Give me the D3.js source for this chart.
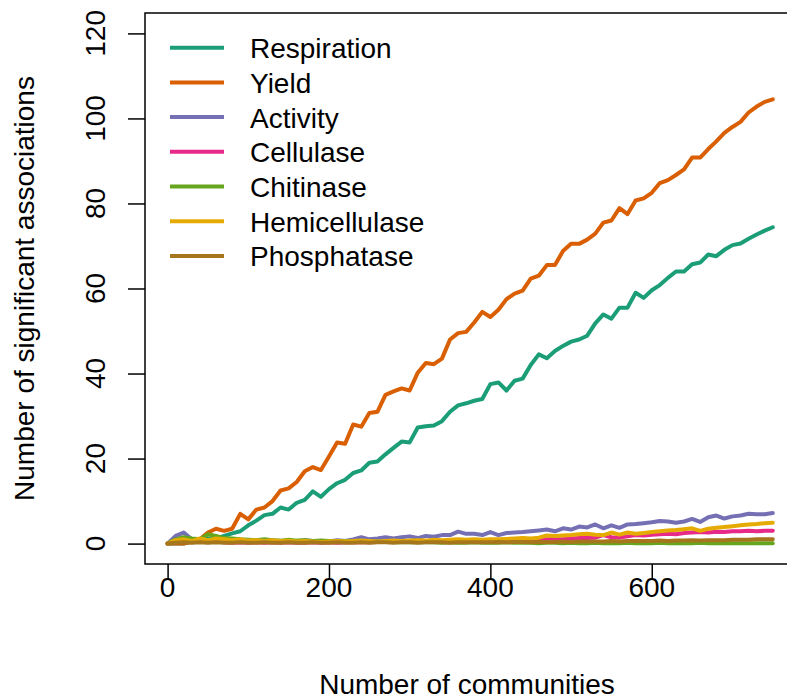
<!DOCTYPE html>
<html>
<head>
<meta charset="utf-8">
<script src="https://cdn.jsdelivr.net/npm/d3@7"></script>
<style>
  body { margin: 0; background: #fff; }
  svg { font-family: "Liberation Sans", Arial, Helvetica, sans-serif; }
</style>
</head>
<body>
<div id="chart"></div>
<script>
// number of communities sampled
const communities = [
  0, 10, 20, 30, 40, 50, 60, 70, 80, 90,
  100, 110, 120, 130, 140, 150, 160, 170, 180, 190,
  200, 210, 220, 230, 240, 250, 260, 270, 280, 290,
  300, 310, 320, 330, 340, 350, 360, 370, 380, 390,
  400, 410, 420, 430, 440, 450, 460, 470, 480, 490,
  500, 510, 520, 530, 540, 550, 560, 570, 580, 590,
  600, 610, 620, 630, 640, 650, 660, 670, 680, 690,
  700, 710, 720, 730, 740, 750
]

const respiration = [
  0, 0, 0, 0.5, 0.8, 1.2, 1.2, 1.8, 2.4, 2.9,
  4.3, 5.4, 6.7, 7, 8.5, 8, 9.6, 10.3, 12.3, 11,
  12.8, 14.2, 15, 16.6, 17.2, 19, 19.3, 21, 22.5, 24,
  23.8, 27.3, 27.6, 27.8, 28.8, 31, 32.5, 33, 33.6, 34,
  37.5, 37.9, 36, 38.3, 38.8, 42, 44.5, 43.6, 45.3, 46.5,
  47.5, 48, 48.9, 51.8, 53.9, 52.9, 55.5, 55.5, 59, 57.8,
  59.6, 60.8, 62.5, 64, 64, 65.7, 66.1, 68, 67.6, 69.1,
  70.2, 70.6, 71.7, 72.7, 73.6, 74.4
]
const yieldVals = [
  0, 0, 0, 0.5, 1, 2.6, 3.5, 3, 3.5, 7,
  5.7, 8, 8.5, 10, 12.5, 13, 14.5, 17, 18, 17.3,
  20.5, 23.8, 23.5, 28, 27.5, 30.7, 31, 35, 35.8, 36.5,
  36, 40.2, 42.5, 42.2, 43.5, 48, 49.5, 49.8, 52, 54.5,
  53.3, 55, 57.5, 58.8, 59.5, 62.3, 63, 65.5, 65.5, 68.8,
  70.5, 70.5, 71.5, 72.9, 75.5, 76, 78.9, 77.5, 80.7, 81.2,
  82.5, 84.8, 85.5, 86.7, 88, 90.8, 90.8, 92.8, 94.6, 96.6,
  98, 99.2, 101.4, 102.8, 103.9, 104.5
]
const activity = [
  0, 1.8, 2.6, 1, 0.5, 0.5, 1, 0.5, 0.8, 0.5,
  0.5, 0.8, 0.5, 0.8, 0.5, 0.7, 0.5, 0.8, 0.6, 0.5,
  0.5, 0.8, 0.6, 1.0, 1.5, 1.0, 1.2, 1.5, 1.2, 1.5,
  1.7, 1.3, 1.8, 1.6, 2.0, 2.0, 2.8, 2.3, 2.3, 2.0,
  2.7, 2.0, 2.5, 2.6, 2.7, 2.9, 3.1, 3.3, 2.9, 3.6,
  3.3, 4.0, 3.8, 4.5, 3.6, 4.3, 3.7, 4.5, 4.6, 4.8,
  5.0, 5.3, 5.2, 4.9, 5.2, 5.8, 5.1, 6.2, 6.6, 5.9,
  6.4, 6.6, 7.0, 6.9, 6.9, 7.2
]
const cellulase = [
  0, 0.3, 0.5, 0.3, 0.5, 0.3, 0.5, 0.3, 0.2, 0.3,
  0.2, 0.3, 0.2, 0.3, 0.2, 0.3, 0.2, 0.2, 0.3, 0.2,
  0.3, 0.2, 0.3, 0.3, 0.4, 0.3, 0.4, 0.4, 0.5, 0.4,
  0.5, 0.5, 0.4, 0.5, 0.6, 0.5, 0.6, 0.6, 0.7, 0.6,
  0.7, 0.8, 0.8, 0.9, 0.8, 0.9, 1.0, 1.0, 1.1, 1.0,
  1.2, 1.3, 1.3, 1.4, 2.0, 1.5, 1.4, 1.7, 2.0, 1.9,
  2.1, 2.2, 2.3, 2.2, 2.5, 2.6, 2.7, 2.6, 2.8, 2.7,
  2.9, 2.9, 3.0, 2.9, 3.0, 3.0
]
const chitinase = [
  0, 1.0, 1.5, 1.2, 1.0, 2.2, 1.8, 1.3, 1.2, 1.0,
  0.9, 0.8, 1.0, 0.8, 0.7, 0.9, 0.7, 0.8, 0.6, 0.7,
  0.6, 0.5, 0.6, 0.5, 0.5, 0.4, 0.5, 0.4, 0.4, 0.3,
  0.4, 0.3, 0.3, 0.3, 0.2, 0.3, 0.2, 0.2, 0.3, 0.2,
  0.2, 0.2, 0.3, 0.2, 0.2, 0.2, 0.1, 0.2, 0.2, 0.1,
  0.2, 0.1, 0.1, 0.2, 0.1, 0.1, 0.1, 0.2, 0.1, 0.1,
  0.1, 0.2, 0.1, 0.1, 0.1, 0.1, 0.2, 0.1, 0.1, 0.1,
  0.1, 0.1, 0.1, 0.1, 0.1, 0.1
]
const hemicellulase = [
  0, 0.8, 1.0, 0.6, 1.2, 0.8, 1.2, 1.0, 0.8, 1.0,
  0.7, 0.8, 0.6, 0.8, 0.6, 0.7, 0.5, 0.6, 0.5, 0.4,
  0.5, 0.6, 0.5, 0.6, 0.7, 0.6, 0.5, 0.6, 0.7, 0.6,
  0.7, 0.8, 0.7, 0.9, 0.8, 0.9, 1.0, 0.9, 1.0, 0.9,
  1.0, 1.0, 1.1, 1.2, 1.3, 1.2, 1.4, 1.9, 1.8, 1.9,
  2.0, 2.2, 2.3, 2.1, 2.0, 2.6, 2.1, 2.6, 2.3, 2.5,
  2.7, 2.9, 3.1, 3.2, 3.4, 3.6, 3.0, 3.5, 3.7, 3.9,
  4.1, 4.3, 4.5, 4.6, 4.8, 4.9
]
const phosphatase = [
  0, 0.2, 0.3, 0.2, 0.3, 0.2, 0.3, 0.2, 0.2, 0.3,
  0.2, 0.2, 0.3, 0.2, 0.2, 0.3, 0.2, 0.2, 0.3, 0.2,
  0.2, 0.3, 0.2, 0.2, 0.3, 0.2, 0.3, 0.3, 0.2, 0.3,
  0.3, 0.2, 0.3, 0.3, 0.3, 0.2, 0.3, 0.3, 0.3, 0.3,
  0.3, 0.4, 0.3, 0.4, 0.4, 0.3, 0.4, 0.4, 0.4, 0.5,
  0.4, 0.5, 0.5, 0.5, 0.5, 0.6, 0.5, 0.6, 0.6, 0.6,
  0.6, 0.7, 0.6, 0.7, 0.7, 0.8, 0.7, 0.8, 0.8, 0.8,
  0.9, 0.9, 0.9, 1.0, 1.0, 1.0
]

const seriesNames = ['Respiration', 'Yield', 'Activity', 'Cellulase', 'Chitinase', 'Hemicellulase', 'Phosphatase']
const seriesValues = [respiration, yieldVals, activity, cellulase, chitinase, hemicellulase, phosphatase]
const colors = ['#1B9E77', '#D95F02', '#7570B3', '#E7298A', '#66A61E', '#E6AB02', '#A6761D']

const xTicks = [0, 200, 400, 600]
const yTicks = [0, 20, 40, 60, 80, 100, 120]

const width = 787
const height = 700
const fontSize = 28

let svg = d3.select('#chart').append('svg')
    .attr('width', width)
    .attr('height', height)

// R style: 4% padding around the axis limits
let x = d3.scaleLinear().domain([-28, 780]).range([145, 797])
let y = d3.scaleLinear().domain([-4.8, 124.8]).range([564, 13])

// y axis (ticks only, labels rotated)
let yAxis = svg.append('g')
    .attr('transform', `translate(${x(-28)},0)`)
    .call(d3.axisLeft(y).tickValues(yTicks).tickSize(17).tickFormat(''))
yAxis.select('.domain').remove()
yAxis.selectAll('line').attr('stroke', '#000').attr('stroke-width', 1.5)

svg.append('g').selectAll('text')
    .data(yTicks)
    .enter()
    .append('text')
    .attr('transform', d => `translate(105, ${y(d)}) rotate(-90)`)
    .attr('text-anchor', 'middle')
    .style('font-size', fontSize + 'px')
    .text(d => d)

// x axis
let xAxis = svg.append('g')
    .attr('transform', `translate(0,${y(-4.8)})`)
    .call(d3.axisBottom(x).tickValues(xTicks).tickSize(16).tickFormat(''))
xAxis.select('.domain').remove()
xAxis.selectAll('line').attr('stroke', '#000').attr('stroke-width', 1.5)

svg.append('g').selectAll('text')
    .data(xTicks)
    .enter()
    .append('text')
    .attr('x', d => x(d))
    .attr('y', 597)
    .attr('text-anchor', 'middle')
    .style('font-size', fontSize + 'px')
    .text(d => d)

// axis titles
svg.append('text')
    .attr('x', (x(-28) + x(780)) / 2 - 4)
    .attr('y', 694)
    .attr('text-anchor', 'middle')
    .style('font-size', fontSize + 'px')
    .text('Number of communities')

svg.append('text')
    .attr('transform', `translate(34, ${(y(-4.8) + y(124.8)) / 2}) rotate(-90)`)
    .attr('text-anchor', 'middle')
    .style('font-size', fontSize + 'px')
    .text('Number of significant associations')

// lines
let line = d3.line()
    .x((d, i) => x(communities[i]))
    .y(d => y(d))

svg.append('g').attr('class', 'lines')
    .selectAll('path')
    .data(seriesValues)
    .enter()
    .append('path')
    .attr('d', line)
    .attr('fill', 'none')
    .attr('stroke', (d, i) => colors[i])
    .attr('stroke-width', 4)
    .attr('stroke-linejoin', 'round')
    .attr('stroke-linecap', 'round')

// plot box
svg.append('rect')
    .attr('x', x(-28))
    .attr('y', y(124.8))
    .attr('width', x(780) - x(-28))
    .attr('height', y(-4.8) - y(124.8))
    .attr('fill', 'none')
    .attr('stroke', '#000')
    .attr('stroke-width', 1.5)

// legend
let legend = svg.append('g').attr('class', 'legend')
    .selectAll('g')
    .data(seriesNames)
    .enter()
    .append('g')
    .attr('transform', (d, i) => `translate(0, ${47.7 + i * 34.7})`)

legend.append('line')
    .attr('x1', 170)
    .attr('x2', 224)
    .attr('stroke', (d, i) => colors[i])
    .attr('stroke-width', 4)

legend.append('text')
    .attr('x', 250)
    .attr('y', 10.5)
    .style('font-size', fontSize + 'px')
    .text(d => d)
</script>
</body>
</html>
